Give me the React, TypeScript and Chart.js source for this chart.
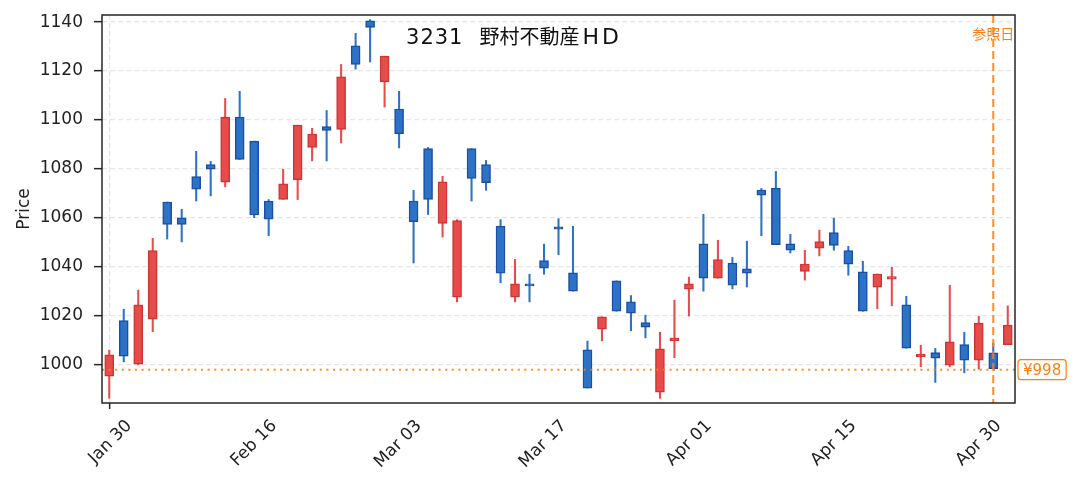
import React, { useEffect, useRef } from 'react';
import { Chart, registerables } from 'chart.js';

Chart.register(...registerables);

const dates = [
  'Jan 30', 'Feb 02', 'Feb 03', 'Feb 04', 'Feb 05', 'Feb 06', 'Feb 09', 'Feb 10', 'Feb 12', 'Feb 13',
  'Feb 16', 'Feb 17', 'Feb 18', 'Feb 19', 'Feb 20', 'Feb 24', 'Feb 25', 'Feb 26', 'Feb 27', 'Mar 02',
  'Mar 03', 'Mar 04', 'Mar 05', 'Mar 06', 'Mar 09', 'Mar 10', 'Mar 11', 'Mar 12', 'Mar 13', 'Mar 16',
  'Mar 17', 'Mar 18', 'Mar 19', 'Mar 23', 'Mar 24', 'Mar 25', 'Mar 26', 'Mar 27', 'Mar 30', 'Mar 31',
  'Apr 01', 'Apr 02', 'Apr 03', 'Apr 06', 'Apr 07', 'Apr 08', 'Apr 09', 'Apr 10', 'Apr 13', 'Apr 14',
  'Apr 15', 'Apr 16', 'Apr 17', 'Apr 20', 'Apr 21', 'Apr 22', 'Apr 23', 'Apr 24', 'Apr 27', 'Apr 28',
  'Apr 30', 'May 01', 'May 07',
];

const opens = [
  995.4, 1018.1, 1000.3, 1018.6, 1066.5, 1060.0, 1076.9, 1081.8, 1074.6, 1101.2,
  1091.4, 1066.9, 1067.6, 1075.6, 1088.8, 1097.3, 1096.2, 1130.3, 1140.5, 1115.6,
  1104.5, 1066.9, 1088.3, 1057.8, 1027.6, 1088.3, 1081.8, 1056.7, 1027.6, 1033.1,
  1042.6, 1056.4, 1037.6, 1006.1, 1014.6, 1034.3, 1025.7, 1017.3, 988.8, 1009.9,
  1030.9, 1049.4, 1035.4, 1041.6, 1039.2, 1071.4, 1072.2, 1049.4, 1038.2, 1047.6,
  1054.0, 1046.7, 1038.0, 1031.7, 1035.0, 1024.5, 1003.3, 1005.0, 999.9, 1008.3,
  1001.9, 1004.9, 1008.2,
];

const highs = [
  1006.0, 1022.7, 1030.5, 1051.7, 1066.5, 1063.5, 1087.2, 1083.1, 1108.8, 1111.7,
  1091.4, 1067.5, 1079.9, 1097.9, 1096.6, 1103.9, 1122.7, 1135.4, 1141.0, 1126.1,
  1111.7, 1071.3, 1088.8, 1077.0, 1059.3, 1088.3, 1083.5, 1059.3, 1043.1, 1037.0,
  1049.3, 1059.7, 1056.6, 1009.7, 1019.6, 1034.3, 1028.3, 1020.3, 1013.3, 1026.4,
  1035.8, 1061.5, 1050.9, 1043.9, 1050.5, 1072.0, 1079.0, 1053.3, 1046.8, 1055.0,
  1059.9, 1048.4, 1042.3, 1037.1, 1039.9, 1028.0, 1008.0, 1006.7, 1032.5, 1013.3,
  1019.8, 1008.9, 1024.1,
];

const lows = [
  986.3, 1001.2, 1000.0, 1013.5, 1051.4, 1050.2, 1066.9, 1069.0, 1072.7, 1083.9,
  1060.1, 1052.7, 1067.6, 1067.5, 1083.3, 1083.3, 1090.6, 1120.8, 1123.7, 1105.3,
  1088.6, 1041.6, 1061.4, 1052.2, 1025.7, 1066.9, 1071.3, 1033.5, 1025.7, 1025.7,
  1037.0, 1045.0, 1030.1, 990.5, 1009.8, 1021.9, 1013.9, 1011.0, 986.3, 1002.9,
  1019.9, 1030.1, 1035.4, 1031.0, 1031.8, 1052.7, 1049.1, 1045.7, 1034.6, 1044.5,
  1046.8, 1036.6, 1021.9, 1022.9, 1024.1, 1006.8, 999.2, 992.8, 999.2, 996.7,
  998.2, 998.4, 1008.2,
];

const closes = [
  1004.1, 1003.5, 1024.5, 1046.7, 1057.4, 1057.4, 1071.7, 1079.9, 1101.2, 1083.9,
  1061.2, 1059.5, 1073.9, 1097.9, 1094.3, 1095.8, 1117.6, 1122.7, 1137.8, 1126.1,
  1094.4, 1058.5, 1067.6, 1074.7, 1058.9, 1076.1, 1074.4, 1037.4, 1033.1, 1032.2,
  1039.5, 1055.4, 1030.1, 990.5, 1019.6, 1021.9, 1021.1, 1015.4, 1006.5, 1010.9,
  1033.1, 1035.4, 1043.0, 1032.5, 1037.4, 1069.3, 1049.1, 1046.8, 1041.2, 1050.3,
  1048.8, 1041.1, 1021.9, 1037.1, 1036.0, 1006.8, 1004.3, 1002.7, 1009.4, 1001.9,
  1017.0, 998.4, 1016.2,
];

const tickEvery = 10;
const refPrice = 998;
const refIndex = 61;
const titleCode = '3231';
const titleName = '野村不動産';
const titleSuffix = 'HD';
const refDateLabel = '参照日';
const refPriceLabel = '¥998';
const yAxisTitle = 'Price';

const UP_FILL = '#e84c4a';
const UP_EDGE = '#cf3434';
const DOWN_FILL = '#2c72c7';
const DOWN_EDGE = '#1b4f9f';
const ORANGE = '#ff7f0e';
const FONT = '"DejaVu Sans", "Noto Sans CJK JP", sans-serif';
const CJK_FONT = '"Noto Sans CJK JP", "DejaVu Sans", sans-serif';

const isUp = closes.map((c, i) => c >= opens[i]);

const overlayPlugin = {
  id: 'overlay',
  afterDatasetsDraw(chart: any) {
    const { ctx, chartArea, scales } = chart;
    const y = scales.y.getPixelForValue(refPrice);
    const x = scales.x.getPixelForValue(refIndex);
    ctx.save();
    ctx.beginPath();
    ctx.rect(chartArea.left, chartArea.top, chartArea.right - chartArea.left, chartArea.bottom - chartArea.top);
    ctx.clip();
    ctx.strokeStyle = ORANGE;
    ctx.globalAlpha = 0.9;
    ctx.lineWidth = 2;
    ctx.setLineDash([2, 4.6]);
    ctx.beginPath();
    ctx.moveTo(chartArea.left, y);
    ctx.lineTo(chartArea.right, y);
    ctx.stroke();
    ctx.setLineDash([8, 4]);
    ctx.beginPath();
    ctx.moveTo(x, chartArea.top);
    ctx.lineTo(x, chartArea.bottom);
    ctx.stroke();
    ctx.restore();
  },
  afterDraw(chart: any) {
    const { ctx, chartArea, scales } = chart;
    const y = scales.y.getPixelForValue(refPrice);
    const x = scales.x.getPixelForValue(refIndex);
    ctx.save();
    // frame
    ctx.strokeStyle = '#262626';
    ctx.lineWidth = 1.5;
    ctx.setLineDash([]);
    ctx.strokeRect(chartArea.left, chartArea.top, chartArea.right - chartArea.left, chartArea.bottom - chartArea.top);
    // title (latin and kanji parts on a common baseline)
    ctx.fillStyle = '#111';
    ctx.textAlign = 'left';
    ctx.textBaseline = 'alphabetic';
    let tx = chartArea.left + (chartArea.right - chartArea.left) * 0.333;
    const ty = chartArea.top + 29;
    ctx.font = `21px ${FONT}`;
    (ctx as any).letterSpacing = '1px';
    ctx.fillText(titleCode, tx, ty);
    tx += ctx.measureText(titleCode).width + 16;
    (ctx as any).letterSpacing = '0px';
    ctx.font = `20px ${CJK_FONT}`;
    ctx.fillText(titleName, tx, ty);
    tx += ctx.measureText(titleName).width + 3;
    ctx.font = `22px ${FONT}`;
    (ctx as any).letterSpacing = '3px';
    ctx.fillText(titleSuffix, tx, ty);
    (ctx as any).letterSpacing = '0px';
    // ref date label
    ctx.fillStyle = ORANGE;
    ctx.font = `14px ${CJK_FONT}`;
    ctx.textAlign = 'center';
    ctx.textBaseline = 'middle';
    ctx.fillText(refDateLabel, x, chartArea.top + 19);
    // price label box
    ctx.font = `15px ${FONT}`;
    const tw = ctx.measureText(refPriceLabel).width;
    const bx = chartArea.right + 3;
    const bw = tw + 10;
    const bh = 20;
    ctx.beginPath();
    ctx.roundRect(bx, y - bh / 2, bw, bh, 3);
    ctx.fillStyle = '#ffffff';
    ctx.fill();
    ctx.lineWidth = 1.2;
    ctx.strokeStyle = ORANGE;
    ctx.stroke();
    ctx.fillStyle = ORANGE;
    ctx.textAlign = 'left';
    ctx.fillText(refPriceLabel, bx + 5, y + 1);
    ctx.restore();
  },
};

export default function App() {
  const canvasRef = useRef<HTMLCanvasElement | null>(null);

  useEffect(() => {
    document.body.style.margin = '0';
    const canvas = canvasRef.current;
    if (!canvas) return;
    const wickColors = isUp.map((u) => (u ? UP_FILL : DOWN_FILL));
    const fillColors = isUp.map((u) => (u ? UP_FILL : DOWN_FILL));
    const edgeColors = isUp.map((u) => (u ? UP_EDGE : DOWN_EDGE));
    const gridColor = '#e6e6e6';

    const chart = new Chart(canvas, {
      type: 'bar',
      data: {
        labels: dates,
        datasets: [
          {
            label: 'wick',
            data: lows.map((l, i) => [l, highs[i]]) as any,
            backgroundColor: wickColors,
            borderWidth: 0,
            barThickness: 1.4,
            grouped: false,
            order: 2,
          },
          {
            label: 'body',
            data: opens.map((o, i) => [o, closes[i]]) as any,
            backgroundColor: fillColors,
            borderColor: edgeColors,
            borderWidth: 1.5,
            borderSkipped: false,
            barThickness: 9,
            grouped: false,
            order: 1,
          },
        ],
      },
      options: {
        responsive: false,
        animation: false,
        maintainAspectRatio: false,
        layout: { padding: { left: 0, right: 64, top: 15, bottom: 0 } },
        plugins: {
          legend: { display: false },
          tooltip: { enabled: false },
          title: { display: false },
        },
        scales: {
          x: {
            type: 'category',
            offset: true,
            grid: {
              offset: false,
              color: (c: any) => (c.index % tickEvery === 0 ? gridColor : 'rgba(0,0,0,0)'),
              tickColor: (c: any) => (c.index % tickEvery === 0 ? '#262626' : 'rgba(0,0,0,0)'),
              tickLength: 6,
              tickWidth: 1.5,
              tickBorderDash: [],
              lineWidth: 1.3,
            },
            border: { display: false, dash: [5, 3] },
            ticks: {
              autoSkip: false,
              maxRotation: 45,
              minRotation: 45,
              labelOffset: 20,
              padding: 7,
              color: '#222',
              font: { family: FONT, size: 17 },
              callback: function (this: any, value: any, index: number) {
                return index % tickEvery === 0 ? dates[index] : null;
              },
            },
            afterFit: (scale: any) => {
              scale.height = 87;
              scale.paddingLeft = 0;
              scale.paddingRight = 0;
            },
          },
          y: {
            type: 'linear',
            min: 984.4,
            max: 1142.9,
            grid: {
              color: gridColor,
              tickColor: '#262626',
              tickLength: 8,
              tickWidth: 1.5,
              tickBorderDash: [],
              lineWidth: 1.3,
            },
            border: { display: false, dash: [5, 3] },
            ticks: {
              stepSize: 20,
              includeBounds: false,
              padding: 11,
              color: '#222',
              font: { family: FONT, size: 17 },
              callback: (v: any) => String(v),
            },
            title: {
              display: true,
              text: yAxisTitle,
              color: '#222',
              font: { family: FONT, size: 17 },
              padding: { top: 14, bottom: 0 },
            },
            afterFit: (scale: any) => {
              scale.width = 102;
              scale.paddingTop = 0;
              scale.paddingBottom = 0;
            },
          },
        },
      },
      plugins: [overlayPlugin],
    });
    return () => chart.destroy();
  }, []);

  return (
    <div style={{ width: 1079, height: 490, position: 'relative' }}>
      <canvas ref={canvasRef} width={1079} height={490} style={{ display: 'block', width: 1079, height: 490 }} />
    </div>
  );
}
